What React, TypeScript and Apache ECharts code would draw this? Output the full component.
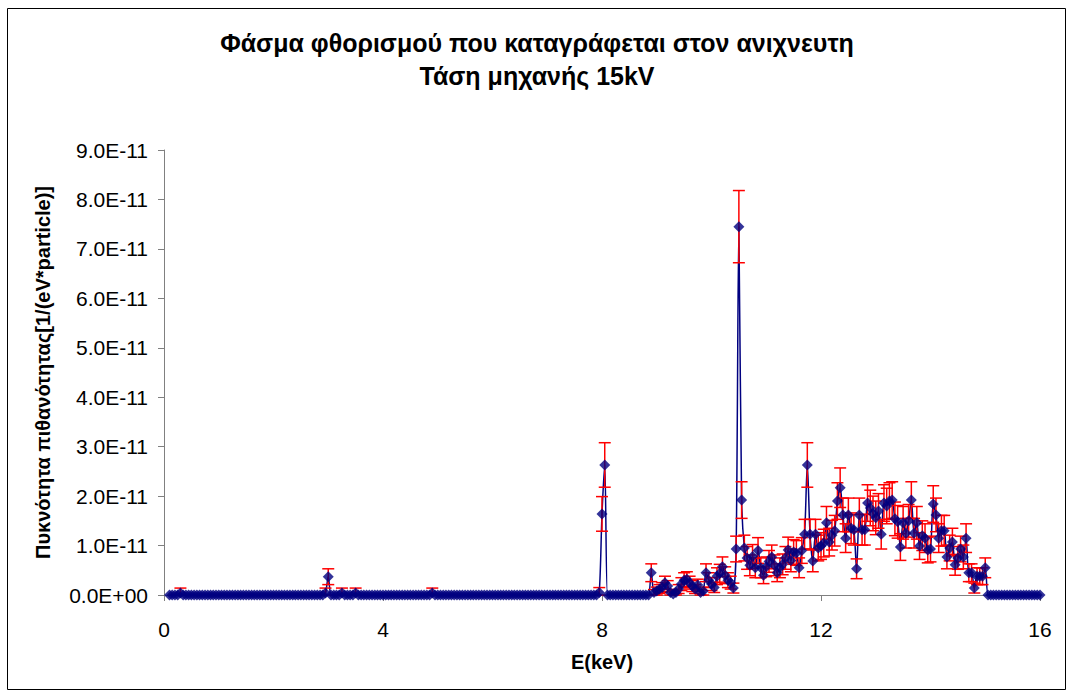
import React, { useEffect, useRef } from "react";
import * as echarts from "echarts";

const TITLE_LINES = ["Φάσμα φθορισμού που καταγράφεται στον ανιχνευτη", "Τάση μηχανής 15kV"];
const X_NAME = "E(keV)";
const Y_NAME = "Πυκνότητα πιθανότητας[1/(eV*particle)]";
const X_MIN = 0;
const X_MAX = 16;
const X_INTERVAL = 4;
const Y_MIN = 0; // in units of 1E-11
const Y_MAX = 9;
const Y_INTERVAL = 1;

// energy grid of the measured spectrum (keV)
const E_START = 0.1;
const E_STEP = 0.05;

// probability density, in units of 1E-11 1/(eV*particle); one row per keV
const density: number[] = [
  // 0.10 - 0.95
  0, 0, 0, 0, 0.04, 0, 0, 0, 0, 0, 0, 0, 0, 0, 0, 0, 0, 0,
  // 1.00 - 1.95
  0, 0, 0, 0, 0, 0, 0, 0, 0, 0, 0, 0, 0, 0, 0, 0, 0, 0, 0, 0,
  // 2.00 - 2.95
  0, 0, 0, 0, 0, 0, 0, 0, 0, 0, 0, 0, 0, 0, 0, 0, 0, 0, 0, 0.04,
  // 3.00 - 3.95
  0.37, 0, 0, 0, 0, 0.04, 0, 0, 0, 0, 0.04, 0, 0, 0, 0, 0, 0, 0, 0, 0,
  // 4.00 - 4.95
  0, 0, 0, 0, 0, 0, 0, 0, 0, 0, 0, 0, 0, 0, 0, 0, 0, 0, 0.04, 0,
  // 5.00 - 5.95
  0, 0, 0, 0, 0, 0, 0, 0, 0, 0, 0, 0, 0, 0, 0, 0, 0, 0, 0, 0,
  // 6.00 - 6.95
  0, 0, 0, 0, 0, 0, 0, 0, 0, 0, 0, 0, 0, 0, 0, 0, 0, 0, 0, 0,
  // 7.00 - 7.95
  0, 0, 0, 0, 0, 0, 0, 0, 0, 0, 0, 0, 0, 0, 0, 0, 0, 0, 0, 0.05,
  // 8.00 - 8.95
  1.64, 2.63, 0, 0, 0, 0, 0, 0, 0, 0, 0, 0, 0, 0, 0, 0, 0, 0, 0.45, 0.05,
  // 9.00 - 9.95
  0.08, 0.12, 0.15, 0.25, 0.18, 0.05, 0.02, 0.05, 0.12, 0.22, 0.3, 0.32, 0.25, 0.18, 0.12, 0.2, 0.05, 0.08, 0.45, 0.3,
  // 10.00 - 10.95
  0.22, 0.15, 0.38, 0.44, 0.57, 0.4, 0.3, 0.25, 0.14, 0.93, 7.45, 1.92, 0.95, 0.75, 0.6, 0.78, 0.55, 0.9, 0.55, 0.4,
  // 11.00 - 11.95
  0.57, 0.68, 0.77, 0.6, 0.45, 0.55, 0.62, 0.75, 0.91, 0.7, 0.87, 0.85, 0.55, 0.9, 1.23, 2.63, 1.23, 0.69, 1.23, 0.95,
  // 12.00 - 12.95
  0.99, 1.05, 1.46, 1.07, 1.21, 1.3, 1.9, 2.17, 1.62, 1.15, 1.62, 1.35, 1.32, 0.53, 1.62, 1.32, 1.32, 1.86, 1.76, 1.65,
  // 13.00 - 13.95
  1.56, 1.7, 1.23, 1.86, 1.8, 1.9, 1.92, 1.54, 1.48, 0.97, 1.46, 1.25, 1.5, 1.92, 1.25, 1.46, 0.99, 1.2, 1.15, 0.91,
  // 14.00 - 14.95
  0.93, 1.84, 1.62, 1.15, 1.3, 1.3, 0.77, 0.95, 1.07, 0.61, 0.75, 0.93, 0.77, 1.15, 0.45, 0.45, 0.14, 0.38, 0.38, 0.38,
  // 15.00 - 15.95
  0.55, 0, 0, 0, 0, 0, 0, 0, 0, 0, 0, 0, 0, 0, 0, 0, 0, 0, 0, 0,
  // 16.00
  0,
];

// statistical error of each point, same units
const densityErr: number[] = [
  // 0.10 - 0.95
  0, 0, 0, 0, 0.1, 0, 0, 0, 0, 0, 0, 0, 0, 0, 0, 0, 0, 0,
  // 1.00 - 1.95
  0, 0, 0, 0, 0, 0, 0, 0, 0, 0, 0, 0, 0, 0, 0, 0, 0, 0, 0, 0,
  // 2.00 - 2.95
  0, 0, 0, 0, 0, 0, 0, 0, 0, 0, 0, 0, 0, 0, 0, 0, 0, 0, 0, 0.1,
  // 3.00 - 3.95
  0.16, 0, 0, 0, 0, 0.1, 0, 0, 0, 0, 0.1, 0, 0, 0, 0, 0, 0, 0, 0, 0,
  // 4.00 - 4.95
  0, 0, 0, 0, 0, 0, 0, 0, 0, 0, 0, 0, 0, 0, 0, 0, 0, 0, 0.1, 0,
  // 5.00 - 5.95
  0, 0, 0, 0, 0, 0, 0, 0, 0, 0, 0, 0, 0, 0, 0, 0, 0, 0, 0, 0,
  // 6.00 - 6.95
  0, 0, 0, 0, 0, 0, 0, 0, 0, 0, 0, 0, 0, 0, 0, 0, 0, 0, 0, 0,
  // 7.00 - 7.95
  0, 0, 0, 0, 0, 0, 0, 0, 0, 0, 0, 0, 0, 0, 0, 0, 0, 0, 0, 0.1,
  // 8.00 - 8.95
  0.35, 0.45, 0, 0, 0, 0, 0, 0, 0, 0, 0, 0, 0, 0, 0, 0, 0, 0, 0.18, 0.06,
  // 9.00 - 9.95
  0.08, 0.09, 0.1, 0.13, 0.11, 0.06, 0.06, 0.06, 0.09, 0.13, 0.15, 0.15, 0.13, 0.11, 0.09, 0.12, 0.06, 0.08, 0.18, 0.15,
  // 10.00 - 10.95
  0.13, 0.1, 0.17, 0.18, 0.2, 0.17, 0.15, 0.13, 0.1, 0.26, 0.73, 0.37, 0.26, 0.23, 0.21, 0.24, 0.2, 0.26, 0.2, 0.17,
  // 11.00 - 11.95
  0.2, 0.22, 0.24, 0.21, 0.18, 0.2, 0.21, 0.23, 0.26, 0.23, 0.25, 0.25, 0.2, 0.26, 0.3, 0.45, 0.3, 0.22, 0.3, 0.26,
  // 12.00 - 12.95
  0.27, 0.28, 0.33, 0.28, 0.3, 0.31, 0.37, 0.4, 0.34, 0.29, 0.34, 0.31, 0.31, 0.2, 0.34, 0.31, 0.31, 0.37, 0.36, 0.35,
  // 13.00 - 13.95
  0.34, 0.35, 0.3, 0.37, 0.36, 0.37, 0.37, 0.34, 0.33, 0.27, 0.33, 0.3, 0.33, 0.37, 0.3, 0.33, 0.27, 0.3, 0.29, 0.26,
  // 14.00 - 14.95
  0.26, 0.37, 0.34, 0.29, 0.31, 0.31, 0.24, 0.26, 0.28, 0.21, 0.23, 0.26, 0.24, 0.29, 0.18, 0.18, 0.1, 0.17, 0.17, 0.17,
  // 15.00 - 15.95
  0.2, 0, 0, 0, 0, 0, 0, 0, 0, 0, 0, 0, 0, 0, 0, 0, 0, 0, 0, 0,
  // 16.00
  0,
];

const FONT = "'Liberation Sans', Arial, sans-serif";

export default function App() {
  const ref = useRef<HTMLDivElement>(null);

  useEffect(() => {
    if (!ref.current) return;
    const chart = echarts.init(ref.current, null, { renderer: "svg" });

    const points = density.map((v, i) => [Number((E_START + i * E_STEP).toFixed(2)), v]);
    const errData = points
      .map((p, i) => [p[0], Math.max(0, p[1] - densityErr[i]), p[1] + densityErr[i], densityErr[i]])
      .filter((d) => d[3] > 0);

    const axisLine = { show: true, lineStyle: { color: "#808080", width: 1 } };

    chart.setOption({
      animation: false,
      backgroundColor: "#ffffff",
      title: {
        text: TITLE_LINES.join("\n"),
        left: "center",
        top: 21,
        textStyle: { fontFamily: FONT, fontSize: 25, fontWeight: "bold", color: "#000", lineHeight: 33 },
      },
      graphic: [
        {
          type: "rect",
          shape: { x: 7.5, y: 8.5, width: 1058, height: 681 },
          style: { fill: "none", stroke: "#000", lineWidth: 1 },
          silent: true,
        },
      ],
      grid: { left: 164, right: 34, top: 150, bottom: 102, containLabel: false },
      xAxis: {
        type: "value",
        min: X_MIN,
        max: X_MAX,
        interval: X_INTERVAL,
        name: X_NAME,
        nameLocation: "middle",
        nameGap: 57,
        nameTextStyle: { fontFamily: FONT, fontSize: 20, fontWeight: "bold", color: "#000" },
        axisLine,
        axisTick: { show: true, length: 6, lineStyle: { color: "#808080" } },
        axisLabel: { fontFamily: FONT, fontSize: 21, color: "#000", margin: 24 },
        splitLine: { show: false },
      },
      yAxis: {
        type: "value",
        min: Y_MIN,
        max: Y_MAX,
        interval: Y_INTERVAL,
        name: Y_NAME,
        nameLocation: "middle",
        nameGap: 111,
        nameTextStyle: { fontFamily: FONT, fontSize: 20, fontWeight: "bold", color: "#000" },
        axisLine,
        axisTick: { show: true, length: 6, lineStyle: { color: "#808080" } },
        axisLabel: {
          fontFamily: FONT,
          fontSize: 21,
          color: "#000",
          margin: 16,
          formatter: (v: number) => (v === 0 ? "0.0E+00" : v.toFixed(1) + "E-11"),
        },
        splitLine: { show: false },
      },
      series: [
        {
          type: "line",
          data: points,
          smooth: 0.3,
          showSymbol: false,
          lineStyle: { color: "#000080", width: 1.5 },
          z: 2,
        },
        {
          type: "custom",
          data: errData,
          z: 3,
          renderItem: (_params: any, api: any) => {
            const x = api.value(0);
            const lo = api.coord([x, api.value(1)]);
            const hi = api.coord([x, api.value(2)]);
            const hw = 6;
            const style = { stroke: "#FF0000", lineWidth: 1.5 };
            return {
              type: "group",
              children: [
                { type: "line", shape: { x1: hi[0], y1: hi[1], x2: lo[0], y2: lo[1] }, style },
                { type: "line", shape: { x1: hi[0] - hw, y1: hi[1], x2: hi[0] + hw, y2: hi[1] }, style },
                { type: "line", shape: { x1: lo[0] - hw, y1: lo[1], x2: lo[0] + hw, y2: lo[1] }, style },
              ],
            };
          },
        },
        {
          type: "scatter",
          data: points,
          symbol: "diamond",
          symbolSize: 11,
          itemStyle: { color: "#000080" },
          z: 4,
        },
      ],
    });

    return () => chart.dispose();
  }, []);

  return <div ref={ref} style={{ position: "fixed", left: 0, top: 0, width: 1074, height: 697 }} />;
}
